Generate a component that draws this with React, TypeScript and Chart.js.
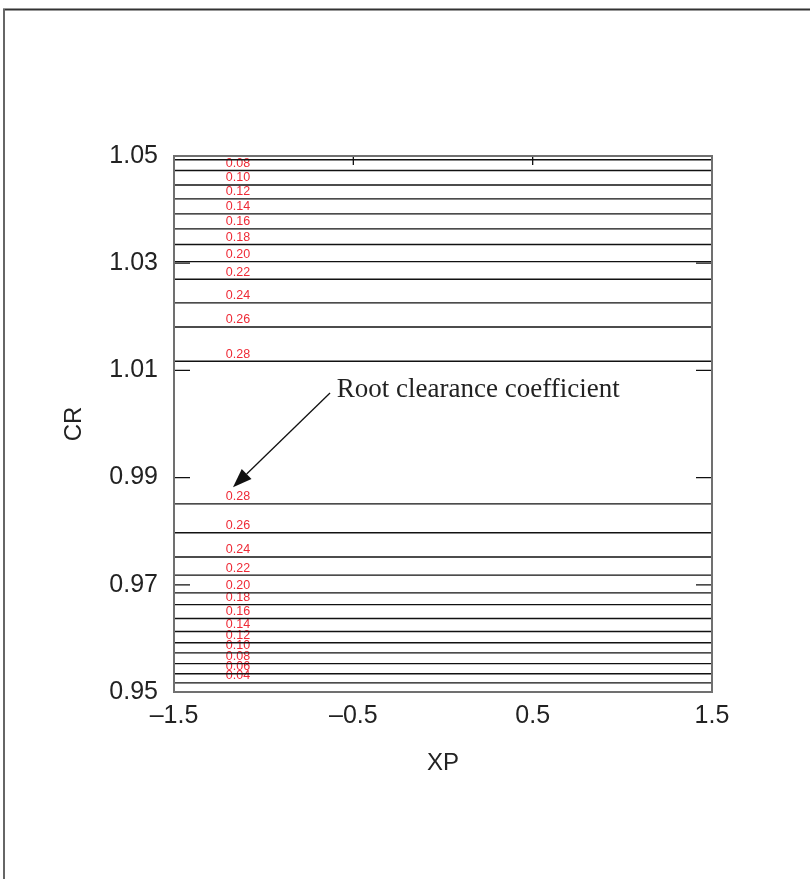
import React, { useEffect, useRef } from "react";
import { Chart, registerables } from "chart.js";

Chart.register(...registerables);

// Contour levels (CR values of the horizontal iso-lines)
const upperLevels = [1.0493, 1.0473, 1.0446, 1.042, 1.0392, 1.0364, 1.0335, 1.0303, 1.027, 1.0226, 1.0181, 1.0117];
const upperLabels = ["", "0.08", "0.10", "0.12", "0.14", "0.16", "0.18", "0.20", "0.22", "0.24", "0.26", "0.28"];
const lowerLevels = [0.9851, 0.9797, 0.9752, 0.9718, 0.9685, 0.9663, 0.9637, 0.9613, 0.9592, 0.9573, 0.9553, 0.9534, 0.9517];
const lowerLabels = ["0.28", "0.26", "0.24", "0.22", "0.20", "0.18", "0.16", "0.14", "0.12", "0.10", "0.08", "0.06", "0.04"];

const xTicks = [-1.5, -0.5, 0.5, 1.5];
const xTickLabels = ["–1.5", "–0.5", "0.5", "1.5"];
const yTicks = [0.95, 0.97, 0.99, 1.01, 1.03, 1.05];
const yTickLabels = ["0.95", "0.97", "0.99", "1.01", "1.03", "1.05"];

const labelXValue = [-1.143];
const annotationText = ["Root clearance coefficient"];
const annotationTextPos = [-0.592, 1.0064];
const arrowFrom = [-0.63, 1.0058];
const arrowTo = [-1.171, 0.9882];

const LABEL_FONT = "Liberation Sans, Arial, sans-serif";

export default function App() {
  const ref = useRef<HTMLCanvasElement | null>(null);

  useEffect(() => {
    const canvas = ref.current;
    if (!canvas) return;

    const levels = [...upperLevels, ...lowerLevels];
    const labels = [...upperLabels, ...lowerLabels];
    const xmin = xTicks[0];
    const xmax = xTicks[xTicks.length - 1];

    const datasets = levels.map((lv) => ({
      data: [
        { x: xmin, y: lv },
        { x: xmax, y: lv },
      ],
      borderColor: "#111",
      borderWidth: 1.4,
      pointRadius: 0,
      fill: false,
      tension: 0,
    }));

    const framePlugin = {
      id: "frame",
      beforeDraw(chart: any) {
        const ctx = chart.ctx;
        ctx.save();
        ctx.lineWidth = 2;
        ctx.strokeStyle = "#333";
        ctx.beginPath();
        ctx.moveTo(3, 9.5);
        ctx.lineTo(810, 9.5);
        ctx.stroke();
        ctx.strokeStyle = "#666";
        ctx.beginPath();
        ctx.moveTo(4, 9);
        ctx.lineTo(4, 879);
        ctx.stroke();
        ctx.restore();
      },
      beforeDatasetsDraw(chart: any) {
        const ctx = chart.ctx;
        const xs = chart.scales.x;
        const ys = chart.scales.y;
        ctx.save();
        ctx.fillStyle = "#ee2a36";
        ctx.font = `12.5px ${LABEL_FONT}`;
        ctx.textAlign = "center";
        ctx.textBaseline = "middle";
        const lx = xs.getPixelForValue(labelXValue[0]);
        levels.forEach((lv, i) => {
          if (!labels[i]) return;
          ctx.fillText(labels[i], lx, ys.getPixelForValue(lv) - 7);
        });
        ctx.restore();
      },
      afterDatasetsDraw(chart: any) {
        const ctx = chart.ctx;
        const a = chart.chartArea;
        const xs = chart.scales.x;
        const ys = chart.scales.y;
        ctx.save();
        // inward tick marks
        ctx.strokeStyle = "#111";
        ctx.lineWidth = 1.3;
        yTicks.slice(1, -1).forEach((v) => {
          const py = ys.getPixelForValue(v);
          ctx.beginPath();
          ctx.moveTo(a.left, py);
          ctx.lineTo(a.left + 16, py);
          ctx.moveTo(a.right, py);
          ctx.lineTo(a.right - 16, py);
          ctx.stroke();
        });
        xTicks.slice(1, -1).forEach((v) => {
          const px = xs.getPixelForValue(v);
          ctx.beginPath();
          ctx.moveTo(px, a.top);
          ctx.lineTo(px, a.top + 9);
          ctx.stroke();
        });
        // plot border
        ctx.strokeStyle = "#707070";
        ctx.lineWidth = 2;
        ctx.strokeRect(a.left, a.top, a.right - a.left, a.bottom - a.top);
        // annotation
        const fx = xs.getPixelForValue(arrowFrom[0]);
        const fy = ys.getPixelForValue(arrowFrom[1]);
        const tx = xs.getPixelForValue(arrowTo[0]);
        const ty = ys.getPixelForValue(arrowTo[1]);
        const ang = Math.atan2(ty - fy, tx - fx);
        const hl = 19;
        const hw = 7;
        const bx = tx - hl * Math.cos(ang);
        const by = ty - hl * Math.sin(ang);
        ctx.strokeStyle = "#111";
        ctx.lineWidth = 1.3;
        ctx.beginPath();
        ctx.moveTo(fx, fy);
        ctx.lineTo(bx, by);
        ctx.stroke();
        ctx.fillStyle = "#111";
        ctx.beginPath();
        ctx.moveTo(tx, ty);
        ctx.lineTo(bx + hw * Math.sin(ang), by - hw * Math.cos(ang));
        ctx.lineTo(bx - hw * Math.sin(ang), by + hw * Math.cos(ang));
        ctx.closePath();
        ctx.fill();
        ctx.fillStyle = "#222";
        ctx.font = "27px Liberation Serif, Times New Roman, serif";
        ctx.textAlign = "left";
        ctx.textBaseline = "middle";
        ctx.fillText(
          annotationText[0],
          xs.getPixelForValue(annotationTextPos[0]),
          ys.getPixelForValue(annotationTextPos[1])
        );
        ctx.restore();
      },
    };

    const chart = new Chart(canvas, {
      type: "line",
      data: { datasets } as any,
      options: {
        animation: false,
        responsive: false,
        events: [],
        layout: { padding: { left: 50, top: 156, right: 98, bottom: 97 } },
        plugins: { legend: { display: false }, tooltip: { enabled: false } },
        scales: {
          x: {
            type: "linear",
            min: xmin,
            max: xmax,
            afterBuildTicks: (s: any) => {
              s.ticks = xTicks.map((v) => ({ value: v }));
            },
            afterFit: (s: any) => {
              s.height = 90;
            },
            ticks: {
              callback: (_v: any, i: number) => xTickLabels[i],
              font: { family: LABEL_FONT, size: 25 },
              color: "#222",
              padding: 9,
              maxRotation: 0,
              autoSkip: false,
            },
            grid: { display: false, drawTicks: false },
            border: { display: false },
            title: {
              display: true,
              text: "XP",
              font: { family: LABEL_FONT, size: 24 },
              color: "#222",
              padding: { top: 0, bottom: 4 },
            },
          },
          y: {
            type: "linear",
            min: yTicks[0],
            max: yTicks[yTicks.length - 1],
            afterBuildTicks: (s: any) => {
              s.ticks = yTicks.map((v) => ({ value: v }));
            },
            afterFit: (s: any) => {
              s.width = 124;
            },
            ticks: {
              callback: (_v: any, i: number) => yTickLabels[i],
              font: { family: LABEL_FONT, size: 25 },
              color: "#222",
              padding: 16,
              autoSkip: false,
            },
            grid: { display: false, drawTicks: false },
            border: { display: false },
            title: {
              display: true,
              text: "CR",
              font: { family: LABEL_FONT, size: 24 },
              color: "#222",
              padding: { top: 10, bottom: 0 },
            },
          },
        },
      } as any,
      plugins: [framePlugin],
    });

    return () => chart.destroy();
  }, []);

  return (
    <div style={{ position: "fixed", left: 0, top: 0, width: 810, height: 879, background: "#fff" }}>
      <canvas ref={ref} width={810} height={879} style={{ display: "block" }} />
    </div>
  );
}
